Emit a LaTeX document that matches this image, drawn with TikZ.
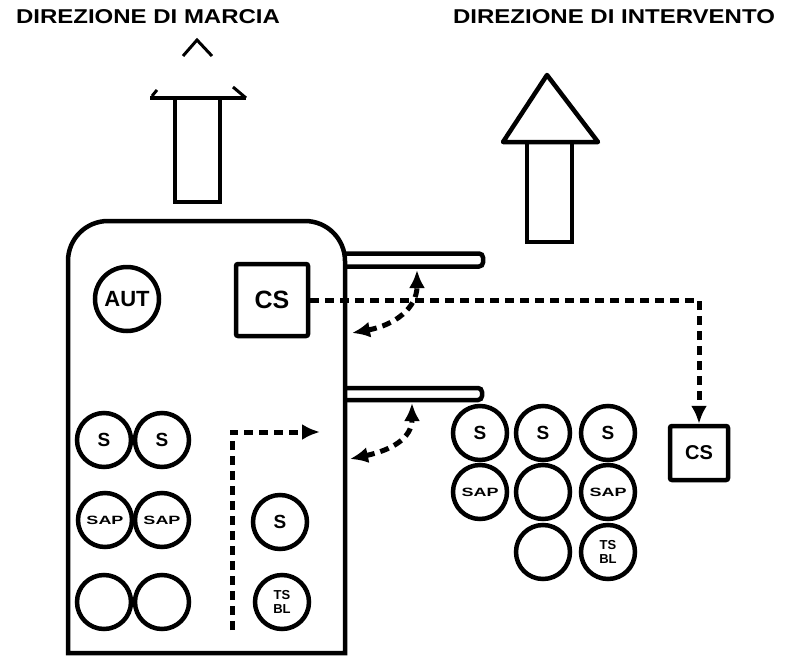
\documentclass[tikz,border=0pt]{standalone}
\usepackage{fontspec}
\setmainfont{Liberation Sans}
\usetikzlibrary{arrows.meta,positioning,calc}
\tikzset{every picture/.style={line width=4.5pt}}
\tikzset{
  titolo/.style={font=\bfseries\fontsize{20}{20}\selectfont, inner sep=0pt},
  organo/.style={circle, draw, minimum size=54pt, inner sep=0pt, align=center,
    font=\bfseries\fontsize{19}{19}\selectfont},
  sigla/.style={font=\bfseries\fontsize{12}{12}\selectfont},
  comando/.style={draw, rectangle, rounded corners=2pt, inner sep=0pt},
  tratteggio/.style={line width=5pt, dash pattern=on 9pt off 6pt, line cap=butt},
  punta/.style={-{Latex[length=18pt,width=16pt]}},
  doppia/.style={{Latex[length=18pt,width=16pt]}-{Latex[length=18pt,width=16pt]}},
}

\begin{document}
\begin{tikzpicture}[x=1pt, y=-1pt]
    \useasboundingbox (0,0) rectangle (786,661);
    % titoli
    \node[titolo] (marcia) at (148,17) {\scalebox{1.2}[1]{DIREZIONE DI MARCIA}};
    \node[titolo] (intervento) at (614,17) {\scalebox{1.2}[1]{DIREZIONE DI INTERVENTO}};
    % freccia di marcia
    \draw (150,98) -- (246,98);
    \draw[line width=3pt] (183,56) -- (197,40) -- (212,56);
    \draw[line width=3pt] (152,96) -- (157,90);
    \draw[line width=3pt] (233,87) -- (246,98);
    \draw (175,98) -- (175,202) -- (220,202) -- (220,98);
    % freccia di intervento
    \draw[line join=round] (503,142) -- (547,75) -- (598,142) -- cycle;
    \draw (527,142) -- (527,242) -- (572,242) -- (572,142);
    % veicolo
    \draw (68,653) [rounded corners=40pt] -- (68,221) -- (345,221) [sharp corners] -- (345,653) -- cycle;
    \draw[rounded corners=4pt] (345,253.5) -- (483,253.5) -- (483,266.5) -- (345,266.5);
    \draw[rounded corners=4pt] (345,388) -- (482,388) -- (482,400) -- (345,400);
    % comandi
    \node[organo, minimum size=64pt, font=\bfseries\fontsize{22}{22}\selectfont] (aut) at (127,299) {AUT};
    \node[comando, minimum width=72pt, minimum height=72pt, font=\bfseries\fontsize{25}{25}\selectfont] (cs) at (272,300) {CS};
    \node[comando, minimum width=58pt, minimum height=54pt, font=\bfseries\fontsize{20}{20}\selectfont] (cs2) at (699,453) {CS};
    % organi a bordo
    \node[organo] (sa) at (104,440) {S};
    \node[organo] (sb) at (162,440) {S};
    \node[organo, sigla] (sapa) at (105,520) {\scalebox{1.5}[1]{SAP}};
    \node[organo, sigla] (sapb) at (162,520) {\scalebox{1.5}[1]{SAP}};
    \node[organo] (va) at (104,602) {};
    \node[organo] (vb) at (162,602) {};
    \node[organo] (sc) at (280,522) {S};
    \node[organo, font=\bfseries\fontsize{13}{14}\selectfont] (tsa) at (282,602) {TS\\BL};
    % organi a terra
    \node[organo] (sd) at (480,433) {S};
    \node[organo, sigla] (sapd) at (480,492) {\scalebox{1.5}[1]{SAP}};
    \node[organo] (se) at (543,433) {S};
    \node[organo] (ve) at (543,492) {};
    \node[organo] (we) at (543,552) {};
    \node[organo] (sf) at (608,433) {S};
    \node[organo, sigla] (sapf) at (608,492) {\scalebox{1.5}[1]{SAP}};
    \node[organo, font=\bfseries\fontsize{13}{14}\selectfont] (tsb) at (608,552) {TS\\BL};
    % collegamenti
    \draw[tratteggio, punta] (cs.east) -| (cs2.north);
    \coordinate (su) at (417,270);
    \coordinate (ss) at (352,333);
    \draw[tratteggio, doppia] (ss) .. controls (395,325) and (417,308) .. (su);
    \coordinate (iu) at (412,403);
    \coordinate (is) at (350,459);
    \draw[tratteggio, doppia] (is) .. controls (392,450) and (412,438) .. (iu);
    \coordinate (ia) at (232,630);
    \coordinate (ib) at (320,432);
    \draw[tratteggio, punta] (ia) |- (ib);
\end{tikzpicture}
\end{document}
